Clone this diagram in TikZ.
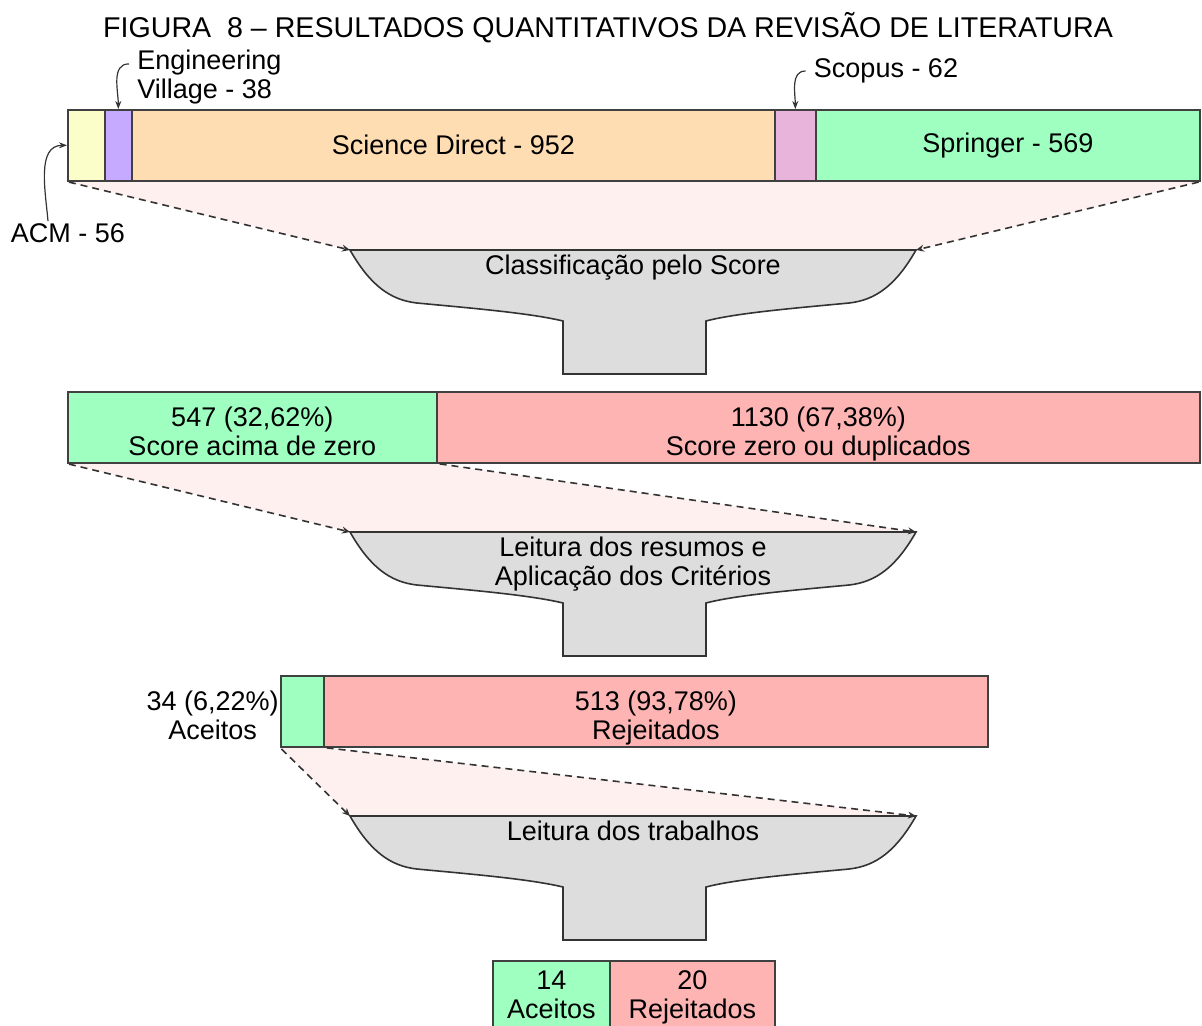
\documentclass[tikz,border=0pt]{standalone}
\usepackage{fontspec}
\setmainfont{Liberation Sans}
\usetikzlibrary{positioning, arrows.meta, backgrounds}

\definecolor{acmyellow}{HTML}{FBFEC9}
\definecolor{evpurple}{HTML}{C6AAFF}
\definecolor{sdorange}{HTML}{FFDDB3}
\definecolor{scopink}{HTML}{E8B4DC}
\definecolor{okgreen}{HTML}{9EFFC0}
\definecolor{nored}{HTML}{FFB4B4}
\definecolor{funnelgray}{HTML}{DDDDDD}
\definecolor{shadepink}{HTML}{FFF0F0}

% duas linhas, um pouco abaixo do centro
\newcommand{\twoline}[3][-4pt]{\raisebox{#1}[\height][\depth]{\begin{tabular}{@{}c@{}}#2\\#3\end{tabular}}}

\tikzset{
  txt/.style={font=\fontsize{13.5}{14.5}\selectfont},
  seg/.style={txt, draw=black!75, line width=0.8pt, inner sep=0pt,
    minimum height=35.5pt, anchor=north west, align=center},
  lbl/.style={txt, align=center, inner sep=1pt},
  hint/.style={draw=black!80, line width=0.6pt, -{Stealth[length=4pt,width=3pt]}},
  zoomline/.style={draw=black!80, dash pattern=on 3.5pt off 2.5pt, line width=0.8pt,
    shorten <=1pt, -{Stealth[length=4pt,width=3.5pt]}},
  funnelbody/.style={fill=funnelgray, draw=black!80, line width=0.8pt},
}

\begin{document}
\begin{tikzpicture}[x=0.5pt, y=-0.5pt]
	\useasboundingbox (0,0) rectangle (1202,1025);
	
	\node[lbl, font=\fontsize{14.3}{16}\selectfont] (title) at (608,28) {FIGURA~~8 -- RESULTADOS QUANTITATIVOS DA REVISÃO DE LITERATURA};
	
	% bases de busca
	\node[seg, fill=acmyellow, minimum width=18.5pt] (acm) at (67,109) {};
	\node[seg, fill=evpurple, minimum width=13.5pt] (ev) at (104,109) {};
	\node[seg, fill=sdorange, minimum width=321.5pt] (sd) at (131,109) {Science Direct - 952};
	\node[seg, fill=scopink, minimum width=20.5pt] (sco) at (774,109) {};
	\node[seg, fill=okgreen, minimum width=192pt] (spr) at (815,109) {Springer - 569};
	
	\node[lbl] (acmlbl) at (68,233) {ACM - 56};
	\node[lbl, align=left, anchor=west] (evlbl) at (135,77) {Engineering\\Village - 38};
	\node[lbl] (scolbl) at (886,71) {Scopus - 62};
	
	\draw[hint] ([xshift=-10pt]acmlbl.north) to[out=95,in=180] (acm.west);
	\draw[hint] ([xshift=-3pt]evlbl.170) to[out=180,in=90] (ev.north);
	\draw[hint] ([xshift=-3pt]scolbl.west) to[out=180,in=90] (sco.north);
	
	% funis
	\foreach \fy/\fn/\ft in {250/fa/{Classificação pelo Score},
		532/fb/{Leitura dos resumos e\\Aplicação dos Critérios},
		816/fc/{Leitura dos trabalhos}}{
		\begin{scope}[shift={(0,\fy)}]
			\draw[funnelbody] (350,0) -- (916,0)
			.. controls (896,35) and (876,50) .. (849,53)
			.. controls (796,58) and (736,63) .. (706,71)
			-- (706,124) -- (563,124) -- (563,71)
			.. controls (530,63) and (470,58) .. (417,53)
			.. controls (390,50) and (370,35) .. (350,0) -- cycle;
			\coordinate (\fn l) at (350,0);
			\coordinate (\fn r) at (916,0);
			\node[lbl, anchor=north] (\fn t) at (633,3) {\ft};
		\end{scope}
	}
	
	% score
	\node[seg, fill=okgreen, minimum width=184.5pt] (sa) at (67,391) {\twoline{547 (32,62\%)}{Score acima de zero}};
	\node[seg, fill=nored, minimum width=381.5pt] (sz) at (436,391) {\twoline{1130 (67,38\%)}{Score zero ou duplicados}};
	
	% resumos
	\node[seg, fill=okgreen, minimum width=21.5pt] (acc) at (280,675) {};
	\node[seg, fill=nored, minimum width=332pt] (rej) at (323,675) {\twoline{513 (93,78\%)}{Rejeitados}};
	\node[lbl, anchor=east, inner sep=0.5pt] (acclbl) at (acc.west) {\twoline{34 (6,22\%)}{Aceitos}};
	
	% trabalhos
	\node[seg, fill=okgreen, minimum width=58.5pt] (fin) at (492,960) {\twoline[-1pt]{14}{Aceitos}};
	\node[seg, fill=nored, minimum width=82.5pt] (fout) at (609,960) {\twoline[-1pt]{20}{Rejeitados}};
	
	\begin{scope}[on background layer]
		\fill[shadepink] (acm.south west) -- (spr.south east) -- (far) -- (fal) -- cycle;
		\fill[shadepink] (sa.south west) -- (sa.south east) -- (fbr) -- (fbl) -- cycle;
		\fill[shadepink] (acc.south west) -- (acc.south east) -- (fcr) -- (fcl) -- cycle;
	\end{scope}
	
	\draw[zoomline] (acm.south west) -- (fal);
	\draw[zoomline] (spr.south east) -- (far);
	\draw[zoomline] (sa.south west) -- (fbl);
	\draw[zoomline] (sa.south east) -- (fbr);
	\draw[zoomline] (acc.south west) -- (fcl);
	\draw[zoomline] (acc.south east) -- (fcr);
\end{tikzpicture}
\end{document}
